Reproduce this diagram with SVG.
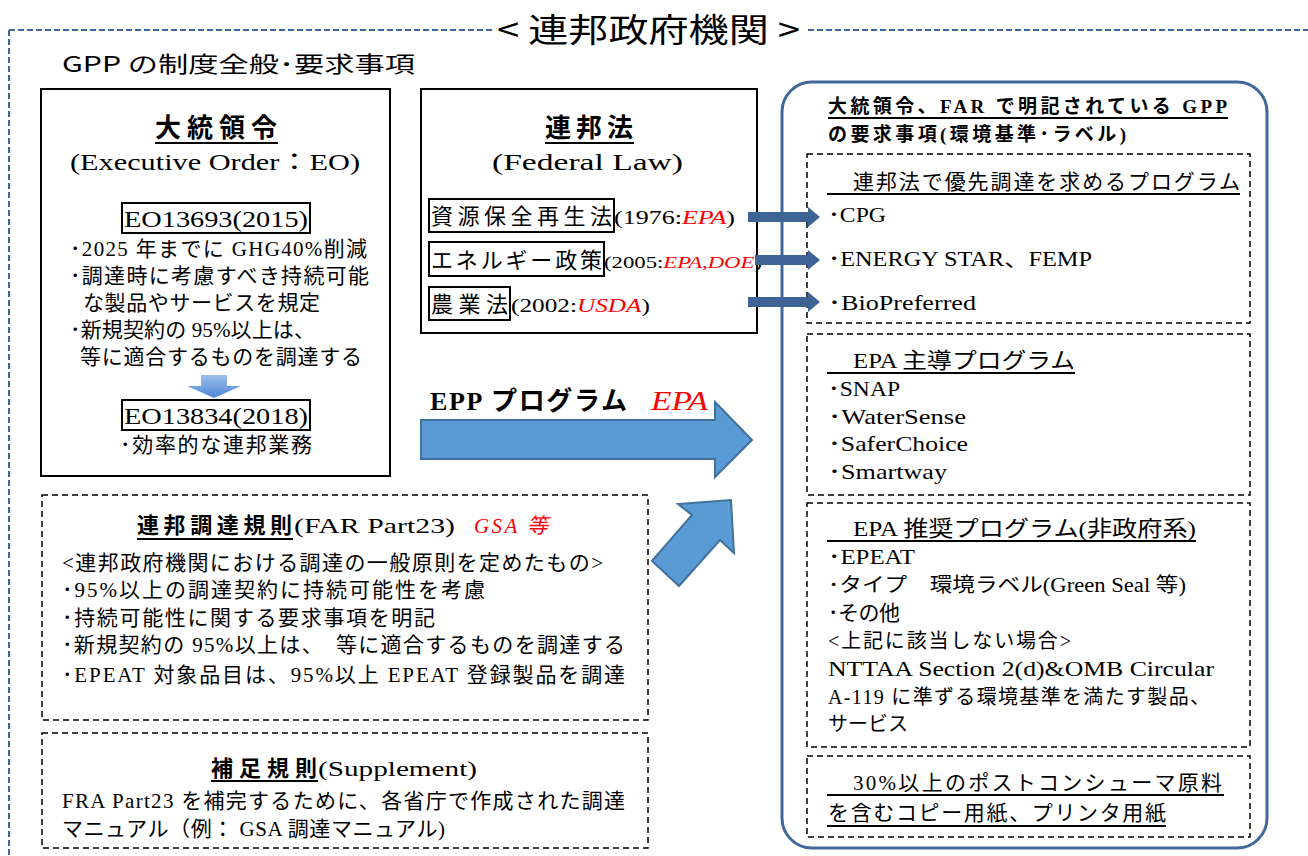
<svg xmlns="http://www.w3.org/2000/svg" width="1308" height="856" viewBox="0 0 1308 856">
<defs>
<style>
.s{font-family:"Liberation Serif","Noto Sans CJK JP",serif;fill:#000}
.g{font-family:"Noto Sans CJK JP","Noto Sans",sans-serif;fill:#000}
.b{font-weight:bold}
.r{fill:#ff0000;font-style:italic}
.solid{fill:#fff;stroke:#000;stroke-width:2}
.dash{fill:#fff;stroke:#000;stroke-width:1.5;stroke-dasharray:6 4}
.ul{stroke:#000;stroke-width:2}
.lbl{fill:none;stroke:#000;stroke-width:2}
</style>
<linearGradient id="dg" x1="0" y1="0" x2="0" y2="1">
<stop offset="0" stop-color="#9cc0ee"/>
<stop offset="1" stop-color="#4f86d6"/>
</linearGradient>
<marker id="ah" viewBox="0 0 12 20" refX="0" refY="10" markerWidth="12" markerHeight="20" markerUnits="userSpaceOnUse" orient="auto">
<path d="M0,0 L12,10 L0,20 Z" fill="#3d6494"/>
</marker>
</defs>
<rect width="1308" height="856" fill="#fff"/>

<g id="frame">
<line x1="9" y1="30" x2="494" y2="30" stroke="#41689a" stroke-width="2" stroke-dasharray="6 3"/>
<line x1="808" y1="30" x2="1308" y2="30" stroke="#41689a" stroke-width="2" stroke-dasharray="6 3"/>
<line x1="9" y1="30" x2="9" y2="856" stroke="#41689a" stroke-width="2" stroke-dasharray="6 3"/>
<text class="g" x="497" y="42" font-size="33" textLength="303" lengthAdjust="spacingAndGlyphs">&lt; 連邦政府機関 &gt;</text>
<text class="g" x="62" y="72" font-size="22" textLength="353" lengthAdjust="spacingAndGlyphs">GPP の制度全般･要求事項</text>
</g>

<g id="eo">
<rect class="solid" x="41" y="89" width="349" height="387"/>
<text class="g b" x="155" y="137" font-size="26" textLength="122" lengthAdjust="spacing">大統領令</text>
<line class="ul" x1="155" y1="143" x2="278" y2="143"/>
<text class="s" x="70" y="170" font-size="24" textLength="290" lengthAdjust="spacingAndGlyphs">(Executive Order：EO)</text>
<rect class="lbl" x="122" y="203" width="188" height="30"/>
<text class="s" x="124" y="227" font-size="24" textLength="184" lengthAdjust="spacingAndGlyphs">EO13693(2015)</text>
<text class="s" x="70" y="256" font-size="21" textLength="297" lengthAdjust="spacing">･2025 年までに GHG40%削減</text>
<text class="s" x="70" y="283" font-size="21" textLength="299" lengthAdjust="spacing">･調達時に考慮すべき持続可能</text>
<text class="s" x="83" y="310" font-size="21" textLength="237" lengthAdjust="spacing">な製品やサービスを規定</text>
<text class="s" x="70" y="337" font-size="21" textLength="245" lengthAdjust="spacing">･新規契約の 95%以上は、</text>
<text class="s" x="80" y="364" font-size="21" textLength="282" lengthAdjust="spacing">等に適合するものを調達する</text>
<path d="M201,375 H227 V386 H241 L214,398 L187,386 H201 Z" fill="url(#dg)"/>
<rect class="lbl" x="122" y="400" width="188" height="30"/>
<text class="s" x="124" y="424" font-size="24" textLength="184" lengthAdjust="spacingAndGlyphs">EO13834(2018)</text>
<text class="s" x="120" y="452" font-size="21" textLength="192" lengthAdjust="spacing">･効率的な連邦業務</text>
</g>

<g id="federal-law">
<rect class="solid" x="421" y="89" width="336" height="244"/>
<text class="g b" x="545" y="137" font-size="26" textLength="88" lengthAdjust="spacing">連邦法</text>
<line class="ul" x1="545" y1="143" x2="634" y2="143"/>
<text class="s" x="492" y="170" font-size="24" textLength="191" lengthAdjust="spacingAndGlyphs">(Federal Law)</text>
<rect class="lbl" x="429" y="199" width="185" height="33"/>
<text class="g" x="431" y="224" font-size="22" textLength="181" lengthAdjust="spacing">資源保全再生法</text>
<text class="s" x="614" y="224" font-size="19" textLength="121" lengthAdjust="spacingAndGlyphs">(1976:<tspan class="r">EPA</tspan>)</text>
<rect class="lbl" x="429" y="242" width="175" height="34"/>
<text class="g" x="431" y="268" font-size="22" textLength="171" lengthAdjust="spacing">エネルギー政策</text>
<text class="s" x="604" y="268" font-size="17" textLength="158" lengthAdjust="spacingAndGlyphs">(2005:<tspan class="r">EPA,DOE</tspan>)</text>
<rect class="lbl" x="429" y="287" width="81" height="33"/>
<text class="g" x="431" y="312" font-size="22" textLength="77" lengthAdjust="spacing">農業法</text>
<text class="s" x="511" y="312" font-size="19" textLength="139" lengthAdjust="spacingAndGlyphs">(2002:<tspan class="r">USDA</tspan>)</text>
</g>

<g id="far">
<rect class="dash" x="42" y="495" width="606" height="225"/>
<text class="g b" x="137" y="533" font-size="22" textLength="155" lengthAdjust="spacing">連邦調達規則</text>
<text class="s" x="294" y="533" font-size="22" textLength="161" lengthAdjust="spacingAndGlyphs">(FAR Part23)</text>
<text class="s r" x="474" y="533" font-size="21" textLength="74" lengthAdjust="spacing">GSA 等</text>
<line class="ul" x1="137" y1="539" x2="293" y2="539"/>
<text class="s" x="62" y="570" font-size="21" textLength="541" lengthAdjust="spacing">&lt;連邦政府機関における調達の一般原則を定めたもの&gt;</text>
<text class="s" x="62" y="597" font-size="21" textLength="423" lengthAdjust="spacing">･95%以上の調達契約に持続可能性を考慮</text>
<text class="s" x="62" y="625" font-size="21" textLength="373" lengthAdjust="spacing">･持続可能性に関する要求事項を明記</text>
<text class="s" x="62" y="652" font-size="21" textLength="563" lengthAdjust="spacing">･新規契約の 95%以上は、　等に適合するものを調達する</text>
<text class="s" x="62" y="682" font-size="21" textLength="563" lengthAdjust="spacing">･EPEAT 対象品目は、95%以上 EPEAT 登録製品を調達</text>
</g>

<g id="supplement">
<rect class="dash" x="42" y="733" width="606" height="115"/>
<text class="g b" x="211" y="776" font-size="22" textLength="106" lengthAdjust="spacing">補足規則</text>
<text class="s" x="318" y="776" font-size="22" textLength="159" lengthAdjust="spacingAndGlyphs">(Supplement)</text>
<line class="ul" x1="211" y1="781" x2="318" y2="781"/>
<text class="s" x="62" y="808" font-size="21" textLength="563" lengthAdjust="spacing">FRA Part23 を補完するために、各省庁で作成された調達</text>
<text class="s" x="62" y="836" font-size="21" textLength="383" lengthAdjust="spacing">マニュアル（例： GSA 調達マニュアル)</text>
</g>

<g id="epp-arrow">
<path d="M421,420 H715 V402 L752,440 L715,477 V459 H421 Z" fill="#5b9bd5" stroke="#41719c" stroke-width="2"/>
<text class="s b" x="430" y="410" font-size="26" textLength="197" lengthAdjust="spacing">EPP <tspan class="g">プログラム</tspan></text>
<text class="s r" x="651" y="410" font-size="28" textLength="57" lengthAdjust="spacingAndGlyphs">EPA</text>
</g>

<g id="far-arrow">
<path d="M652,561 L692,515 L678,504 L731,500 L734,553 L720,540 L679,586 Z" fill="#5b9bd5" stroke="#41719c" stroke-width="2"/>
</g>

<g id="requirements">
<rect x="782" y="82" width="485" height="766" rx="30" fill="#fff" stroke="#41689a" stroke-width="3"/>
<text class="s b" x="828" y="113" font-size="19" textLength="399" lengthAdjust="spacing">大統領令、FAR で明記されている GPP</text>
<line class="ul" x1="828" y1="118" x2="1228" y2="118" stroke-width="1.5"/>
<text class="s b" x="828" y="141" font-size="19" textLength="298" lengthAdjust="spacing">の要求事項(環境基準･ラベル)</text>

<rect class="dash" x="807" y="154" width="443" height="169"/>
<text class="g" x="853" y="189" font-size="21" textLength="387" lengthAdjust="spacing">連邦法で優先調達を求めるプログラム</text>
<line class="ul" x1="827" y1="194" x2="1240" y2="194"/>
<text class="s" x="828" y="222" font-size="21" textLength="58" lengthAdjust="spacingAndGlyphs">･CPG</text>
<text class="s" x="828" y="266" font-size="21" textLength="264" lengthAdjust="spacingAndGlyphs">･ENERGY STAR、FEMP</text>
<text class="s" x="828" y="310" font-size="21" textLength="148" lengthAdjust="spacingAndGlyphs">･BioPreferred</text>

<rect class="dash" x="807" y="334" width="443" height="161"/>
<text class="s" x="853" y="368" font-size="22" textLength="222" lengthAdjust="spacingAndGlyphs">EPA 主導プログラム</text>
<line class="ul" x1="827" y1="373" x2="1075" y2="373"/>
<text class="s" x="828" y="396" font-size="21" textLength="72" lengthAdjust="spacingAndGlyphs">･SNAP</text>
<text class="s" x="828" y="424" font-size="21" textLength="138" lengthAdjust="spacingAndGlyphs">･WaterSense</text>
<text class="s" x="828" y="451" font-size="21" textLength="140" lengthAdjust="spacingAndGlyphs">･SaferChoice</text>
<text class="s" x="828" y="479" font-size="21" textLength="119" lengthAdjust="spacingAndGlyphs">･Smartway</text>

<rect class="dash" x="807" y="503" width="443" height="244"/>
<text class="s" x="853" y="536" font-size="22" textLength="343" lengthAdjust="spacingAndGlyphs">EPA 推奨プログラム(非政府系)</text>
<line class="ul" x1="827" y1="541" x2="1196" y2="541"/>
<text class="s" x="828" y="564" font-size="21" textLength="87" lengthAdjust="spacingAndGlyphs">･EPEAT</text>
<text class="s" x="828" y="592" font-size="20" textLength="358" lengthAdjust="spacingAndGlyphs">･タイプ　環境ラベル(Green Seal 等)</text>
<text class="s" x="828" y="620" font-size="21" textLength="72" lengthAdjust="spacing">･その他</text>
<text class="s" x="828" y="648" font-size="20" textLength="243" lengthAdjust="spacing">&lt;上記に該当しない場合&gt;</text>
<text class="s" x="828" y="676" font-size="21" textLength="386" lengthAdjust="spacingAndGlyphs">NTTAA Section 2(d)&amp;OMB Circular</text>
<text class="s" x="828" y="704" font-size="20" textLength="382" lengthAdjust="spacing">A-119 に準ずる環境基準を満たす製品、</text>
<text class="s" x="828" y="731" font-size="20" textLength="80" lengthAdjust="spacing">サービス</text>

<rect class="dash" x="807" y="756" width="443" height="81"/>
<text class="s" x="853" y="790" font-size="21" textLength="369" lengthAdjust="spacing">30%以上のポストコンシューマ原料</text>
<line class="ul" x1="827" y1="795" x2="1224" y2="795"/>
<text class="s" x="828" y="820" font-size="21" textLength="338" lengthAdjust="spacing">を含むコピー用紙、プリンタ用紙</text>
<line class="ul" x1="827" y1="826" x2="1166" y2="826"/>
</g>

<g id="connectors">
<line x1="748" y1="217" x2="808" y2="217" stroke="#3d6494" stroke-width="10" marker-end="url(#ah)"/>
<line x1="755" y1="260" x2="808" y2="260" stroke="#3d6494" stroke-width="10" marker-end="url(#ah)"/>
<line x1="748" y1="302" x2="808" y2="302" stroke="#3d6494" stroke-width="10" marker-end="url(#ah)"/>
</g>
</svg>
